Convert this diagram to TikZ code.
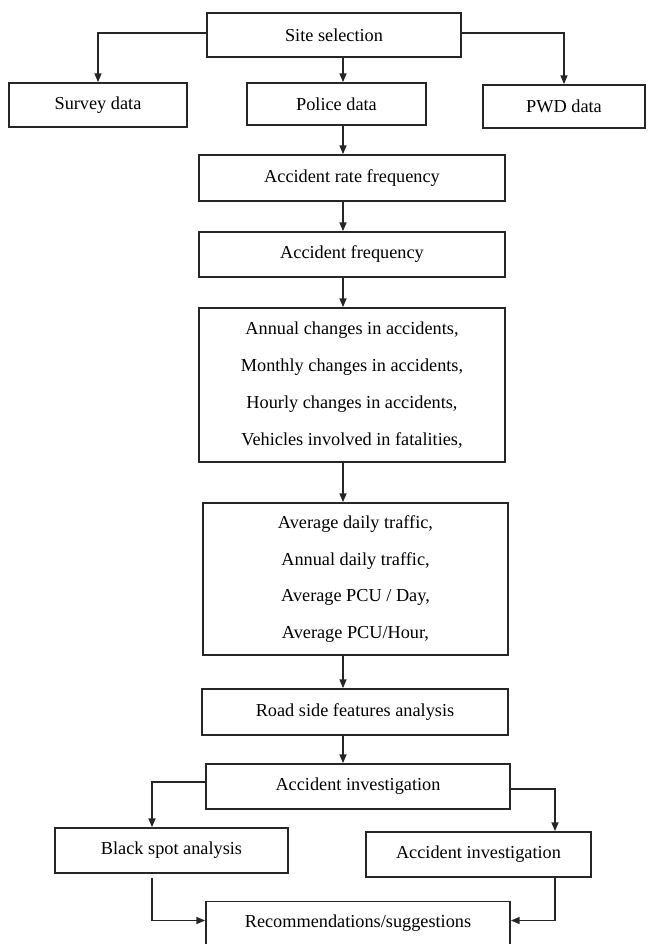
\documentclass[tikz,border=0pt]{standalone}
\usepackage{fontspec}
\setmainfont{Liberation Serif}
\usetikzlibrary{arrows.meta}
\tikzset{
    flow-box/.style = {draw=black!85, fill=white, line width=1pt, rectangle, inner sep=0pt, align=center, font=\fontsize{10.4}{21}\selectfont},
    box-size/.style 2 args = {minimum width=#1*0.02cm, minimum height=#2*0.02cm},
    flow-arrow/.style = {draw=black!85, line width=0.8pt, -{Triangle[length=5pt,width=4pt]}},
}

\begin{document}
\begin{tikzpicture}[x=0.02cm, y=-0.02cm]
\useasboundingbox (0,0) rectangle (648,944);

% top row
\node [flow-box, box-size={254}{44}] (site) at (334,35) {Site selection};
\node [flow-box, box-size={178}{44}] (survey) at (98,105) {Survey data};
\node [flow-box, box-size={179}{42}] (police) at (336.5,104) {Police data};
\node [flow-box, box-size={162}{43}] (pwd) at (564,106.5) {PWD data};

% main column
\node [flow-box, box-size={306}{46}] (rate) at (352,178) {Accident rate frequency};
\node [flow-box, box-size={306}{45}] (freq) at (352,254.5) {Accident frequency};
\node [flow-box, box-size={306}{154}] (changes) at (352,385) {Annual changes in accidents,\\
    Monthly changes in accidents,\\
    Hourly changes in accidents,\\
    Vehicles involved in fatalities,};
\node [flow-box, box-size={305}{152}] (traffic) at (355.5,579) {Average daily traffic,\\
    Annual daily traffic,\\
    Average PCU / Day,\\
    Average PCU/Hour,};
\node [flow-box, box-size={306}{46}] (roadside) at (355,712) {Road side features analysis};
\node [flow-box, box-size={304}{45}] (investigation) at (358,786.5) {Accident investigation};

% bottom part
\node [flow-box, box-size={233}{45}] (blackspot) at (171.5,850.5) {Black spot analysis};
\node [flow-box, box-size={225}{45}] (investigation-b) at (478.5,854.5) {Accident investigation};
\node [flow-box, box-size={304}{44}] (recs) at (358,923.5) {Recommendations/suggestions};

\coordinate (spine) at (343,0);
\coordinate (left-drop) at (152,0);
\coordinate (right-drop) at (555,0);

\draw [flow-arrow] ([yshift=0.04cm]site.west) -| (survey.north);
\draw [flow-arrow] ([yshift=0.04cm]site.east) -| (pwd.north);
\foreach \a/\b in {site/police, police/rate, rate/freq, freq/changes, changes/traffic, traffic/roadside, roadside/investigation}
    \draw [flow-arrow] (\a.south -| spine) -- (\b.north -| spine);
\draw [flow-arrow] ([yshift=0.09cm]investigation.west) -| (blackspot.north -| left-drop);
\draw [flow-arrow] ([yshift=-0.05cm]investigation.east) -| (investigation-b.north -| right-drop);
\draw [flow-arrow] ([yshift=-0.08cm]blackspot.south -| left-drop) |- ([yshift=0.06cm]recs.west);
\draw [flow-arrow] (investigation-b.south -| right-drop) |- ([yshift=0.06cm]recs.east);
\end{tikzpicture}
\end{document}
